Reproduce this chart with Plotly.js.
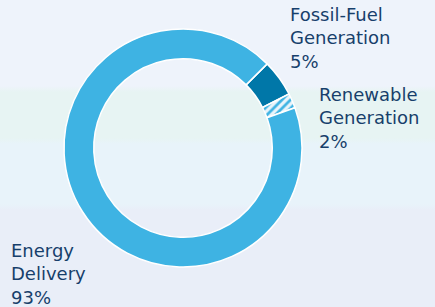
<!DOCTYPE html>
<html>
<head>
<meta charset="utf-8">
<script src="https://cdn.plot.ly/plotly-3.0.1.min.js"></script>
<style>
html,body{margin:0;padding:0;}
body{width:435px;height:307px;overflow:hidden;
background:linear-gradient(to bottom,#eef3fb 0px,#eef3fb 86px,#e7f4f3 92px,#e7f4f3 138px,#e8f3fa 144px,#e8f3fa 204px,#e9eef8 210px,#e9eef8 307px);}
#chart{width:435px;height:307px;}
</style>
</head>
<body>
<div id="chart"></div>
<script>
// Data
const labels = ["Fossil-Fuel Generation", "Renewable Generation", "Energy Delivery"];
const labelLines = [["Fossil-Fuel", "Generation"], ["Renewable", "Generation"], ["Energy", "Delivery"]];
const values = [5, 2, 93];
const colors = ["#0077a8", "#e9f4fa", "#3eb3e3"];

const W = 435, H = 307;
const textColor = "#173f6b";
const fontFam = "'DejaVu Sans', sans-serif";
const fs = 18;

// label block positions (left x, block center y) in px
const labelPos = [[289, 38], [318, 118], [10, 274]];

const annotations = labels.map((lab, i) => ({
  text: labelLines[i].concat([values[i] + "%"]).join("<br>"),
  showarrow: false, align: "left",
  xref: "paper", yref: "paper",
  x: labelPos[i][0] / W, y: 1 - labelPos[i][1] / H,
  xanchor: "left", yanchor: "middle",
  borderpad: 0,
  font: {family: fontFam, size: fs, color: textColor}
}));

const cx = 183, cy = 148, r = 119;
const trace = {
  type: "pie",
  labels: labels,
  values: values,
  sort: false,
  direction: "clockwise",
  rotation: 45,
  hole: 0.75,
  textinfo: "none",
  hoverinfo: "label+percent",
  showlegend: false,
  domain: {x: [(cx - r) / W, (cx + r) / W], y: [(H - cy - r) / H, (H - cy + r) / H]},
  marker: {
    colors: colors,
    line: {color: "#ffffff", width: 1.5},
    pattern: {shape: ["", "/", ""], fgcolor: ["#0077a8", "#3eb3e3", "#3eb3e3"], bgcolor: colors, size: 6, solidity: 0.45}
  }
};

Plotly.newPlot("chart", [trace], {
  width: W, height: H,
  margin: {l: 0, r: 0, t: 0, b: 0},
  paper_bgcolor: "rgba(0,0,0,0)",
  plot_bgcolor: "rgba(0,0,0,0)",
  annotations: annotations
}, {displayModeBar: false, staticPlot: true});
</script>
</body>
</html>
